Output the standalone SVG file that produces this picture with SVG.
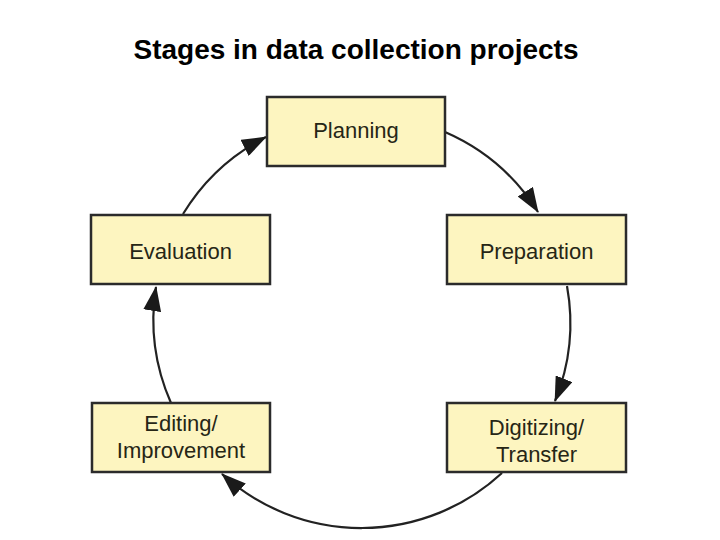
<svg xmlns="http://www.w3.org/2000/svg" width="720" height="540" viewBox="0 0 720 540">
<style>
.box{fill:#fdf5c0;stroke:#2b2b2b;stroke-width:2.5}
.lbl{font-family:"Liberation Sans",Arial,sans-serif;font-size:22px;fill:#262616;text-anchor:middle}
.title{font-family:"Liberation Sans",Arial,sans-serif;font-size:28px;font-weight:bold;fill:#000;text-anchor:middle}
.arc{fill:none;stroke:#222;stroke-width:2.2}
</style>
<defs>
<marker id="ah" markerWidth="25" markerHeight="18" refX="24" refY="9" orient="auto" markerUnits="userSpaceOnUse">
<path d="M0,0 L25,9 L0,18 Z" fill="#1a1a1a"/>
</marker>
</defs>
<rect width="720" height="540" fill="#fff"/>
<text class="title" x="356" y="59">Stages in data collection projects</text>
<g id="connectors">
<path class="arc" d="M445,132 A207,207 0 0 1 538,212" marker-end="url(#ah)"/>
<path class="arc" d="M567,286 A207,207 0 0 1 555,401" marker-end="url(#ah)"/>
<path class="arc" d="M502,473 A207,207 0 0 1 222,474" marker-end="url(#ah)"/>
<path class="arc" d="M171,403 A207,207 0 0 1 156,287" marker-end="url(#ah)"/>
<path class="arc" d="M183,214 A207,207 0 0 1 266,137" marker-end="url(#ah)"/>
</g>
<g id="planning">
<rect class="box" x="267" y="97" width="178" height="69"/>
<text class="lbl" x="356" y="138">Planning</text>
</g>
<g id="preparation">
<rect class="box" x="447" y="215" width="179" height="69"/>
<text class="lbl" x="536.5" y="259">Preparation</text>
</g>
<g id="digitizing">
<rect class="box" x="447" y="403" width="179" height="69"/>
<text class="lbl" x="536.5" y="435">Digitizing/</text>
<text class="lbl" x="536.5" y="462">Transfer</text>
</g>
<g id="editing">
<rect class="box" x="92" y="403" width="178" height="69"/>
<text class="lbl" x="181" y="431">Editing/</text>
<text class="lbl" x="181" y="458">Improvement</text>
</g>
<g id="evaluation">
<rect class="box" x="91" y="215" width="179" height="69"/>
<text class="lbl" x="180.5" y="259">Evaluation</text>
</g>
</svg>
